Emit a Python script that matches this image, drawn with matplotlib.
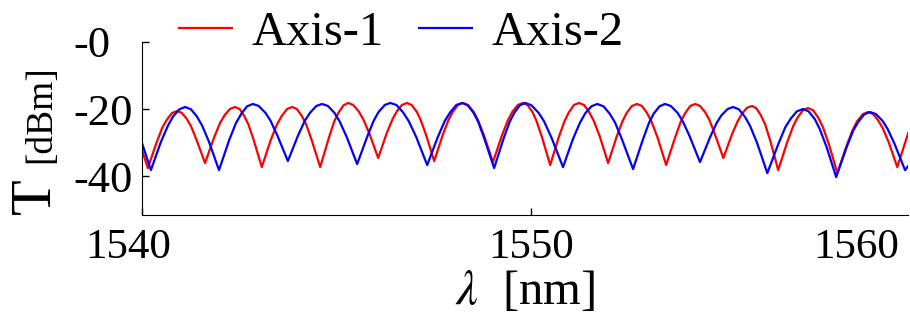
import matplotlib
matplotlib.use('Agg')
import matplotlib.pyplot as plt
from matplotlib.transforms import ScaledTranslation

# wavelength [nm] and transmission [dBm]
wl_axis1 = [1540.00, 1540.15, 1540.375, 1540.525, 1540.64, 1540.77,
            1540.90, 1541.02, 1541.15, 1541.26, 1541.40, 1541.62,
            1541.85, 1542.005, 1542.12, 1542.26, 1542.39, 1542.51,
            1542.63, 1542.735, 1542.87, 1543.08, 1543.31, 1543.47,
            1543.59, 1543.73, 1543.86, 1543.98, 1544.11, 1544.22,
            1544.36, 1544.58, 1544.80, 1544.94, 1545.05, 1545.18,
            1545.30, 1545.43, 1545.57, 1545.685, 1545.84, 1546.07,
            1546.29, 1546.44, 1546.55, 1546.68, 1546.81, 1546.93,
            1547.06, 1547.16, 1547.30, 1547.51, 1547.73, 1547.88,
            1547.99, 1548.12, 1548.25, 1548.38, 1548.52, 1548.635,
            1548.79, 1549.02, 1549.25, 1549.405, 1549.52, 1549.66,
            1549.79, 1549.91, 1550.04, 1550.14, 1550.28, 1550.49,
            1550.71, 1550.86, 1550.97, 1551.10, 1551.23, 1551.36,
            1551.49, 1551.605, 1551.76, 1551.98, 1552.20, 1552.35,
            1552.46, 1552.59, 1552.72, 1552.85, 1552.98, 1553.095,
            1553.25, 1553.47, 1553.70, 1553.845, 1553.96, 1554.09,
            1554.22, 1554.34, 1554.47, 1554.58, 1554.72, 1554.94,
            1555.16, 1555.31, 1555.42, 1555.55, 1555.68, 1555.79,
            1555.91, 1556.015, 1556.15, 1556.35, 1556.58, 1556.735,
            1556.85, 1556.99, 1557.12, 1557.25, 1557.38, 1557.495,
            1557.65, 1557.87, 1558.11, 1558.265, 1558.38, 1558.53,
            1558.66, 1558.79, 1558.92, 1559.035, 1559.19, 1559.41,
            1559.69]
t_axis1 = [-32.2, -37.6, -30.0, -25.5, -23.2, -21.2,
           -20.6, -21.1, -22.9, -25.1, -29.1, -36.1,
           -28.6, -24.2, -21.9, -20.0, -19.4, -20.0,
           -22.1, -24.6, -29.2, -37.3, -29.2, -24.6,
           -22.1, -20.0, -19.4, -20.0, -22.1, -24.6,
           -29.2, -37.3, -28.7, -23.7, -21.1, -18.9,
           -18.2, -18.8, -20.7, -23.0, -27.2, -34.6,
           -27.2, -23.0, -20.7, -18.8, -18.2, -18.8,
           -20.8, -23.2, -27.7, -35.5, -27.7, -23.2,
           -20.8, -18.8, -18.2, -18.8, -20.8, -23.3,
           -27.9, -35.8, -27.9, -23.3, -20.8, -18.8,
           -18.2, -18.8, -21.0, -23.6, -28.4, -36.7,
           -28.4, -23.6, -21.0, -18.8, -18.2, -18.8,
           -20.9, -23.4, -28.0, -36.1, -28.2, -23.6,
           -21.1, -19.1, -18.5, -19.1, -21.2, -23.8,
           -28.5, -36.7, -28.5, -23.8, -21.2, -19.1,
           -18.5, -19.1, -20.9, -23.2, -27.4, -34.6,
           -27.6, -23.6, -21.4, -19.6, -19.1, -19.8,
           -22.0, -24.6, -29.6, -38.2, -29.9, -25.1,
           -22.5, -20.3, -19.7, -20.4, -22.6, -25.3,
           -30.4, -39.1, -30.9, -26.2, -23.6, -21.5,
           -20.9, -21.5, -23.4, -25.7, -29.9, -37.3,
           -27.2]

wl_axis2 = [1540.00, 1540.23, 1540.49, 1540.67, 1540.80, 1540.96,
            1541.11, 1541.26, 1541.41, 1541.545, 1541.72, 1541.98,
            1542.24, 1542.415, 1542.55, 1542.70, 1542.85, 1543.00,
            1543.17, 1543.30, 1543.48, 1543.75, 1544.01, 1544.19,
            1544.32, 1544.48, 1544.63, 1544.78, 1544.95, 1545.08,
            1545.26, 1545.53, 1545.79, 1545.955, 1546.08, 1546.24,
            1546.38, 1546.54, 1546.71, 1546.855, 1547.05, 1547.33,
            1547.60, 1547.78, 1547.92, 1548.08, 1548.23, 1548.37,
            1548.52, 1548.64, 1548.80, 1549.05, 1549.29, 1549.45,
            1549.57, 1549.71, 1549.85, 1550.01, 1550.19, 1550.335,
            1550.53, 1550.82, 1551.08, 1551.26, 1551.39, 1551.55,
            1551.70, 1551.86, 1552.02, 1552.16, 1552.34, 1552.62,
            1552.87, 1553.03, 1553.15, 1553.30, 1553.44, 1553.59,
            1553.76, 1553.89, 1554.07, 1554.34, 1554.60, 1554.765,
            1554.89, 1555.05, 1555.19, 1555.34, 1555.50, 1555.63,
            1555.81, 1556.07, 1556.35, 1556.53, 1556.67, 1556.83,
            1556.99, 1557.13, 1557.29, 1557.415, 1557.59, 1557.84,
            1558.10, 1558.275, 1558.41, 1558.56, 1558.71, 1558.86,
            1559.03, 1559.16, 1559.34, 1559.61, 1559.69]
t_axis2 = [-30.1, -38.2, -29.7, -24.9, -22.2, -20.1,
           -19.4, -20.1, -22.2, -24.9, -29.7, -38.2,
           -29.3, -24.2, -21.5, -19.2, -18.5, -19.1,
           -21.1, -23.4, -27.9, -35.5, -27.9, -23.4,
           -21.1, -19.1, -18.5, -19.1, -21.2, -23.7,
           -28.3, -36.4, -28.2, -23.5, -20.9, -18.8,
           -18.2, -18.8, -21.0, -23.6, -28.4, -36.7,
           -28.4, -23.6, -21.0, -18.8, -18.2, -18.9,
           -21.1, -23.8, -28.9, -37.6, -28.9, -23.8,
           -21.1, -18.9, -18.2, -18.9, -21.1, -23.7,
           -28.7, -37.3, -28.8, -24.0, -21.3, -19.2,
           -18.5, -19.2, -21.4, -24.1, -29.2, -37.9,
           -29.2, -24.1, -21.4, -19.2, -18.5, -19.1,
           -21.1, -23.5, -28.0, -35.8, -28.4, -24.2,
           -21.9, -20.0, -19.4, -20.1, -22.4, -25.1,
           -30.2, -39.1, -30.5, -25.5, -22.9, -20.7,
           -20.0, -20.7, -23.0, -25.9, -31.2, -40.3,
           -31.6, -26.5, -23.8, -21.6, -20.9, -21.5,
           -23.5, -25.9, -30.4, -38.2, -37.0]

x_ticks = [1540, 1550, 1558.35]
x_ticklabels = ['1540', '1550', '1560']
y_ticks = [0, -20, -40]
y_ticklabels = ['-0', '-20', '-40']

plt.rcParams['font.family'] = 'serif'
plt.rcParams['font.serif'] = ['Liberation Serif', 'DejaVu Serif']
plt.rcParams['mathtext.fontset'] = 'stix'

fig = plt.figure(figsize=(9.1, 3.22), dpi=100)
ax = fig.add_axes([0.156, 0.332, 0.842, 0.538])

ax.plot(wl_axis1, t_axis1, color='#ff0000', lw=1.6, label='Axis-1')
ax.plot(wl_axis2, t_axis2, color='#0000ff', lw=1.6, label='Axis-2')

ax.set_xlim(1540, 1559.69)
ax.set_ylim(-51.6, 0)
ax.spines['top'].set_visible(False)
ax.spines['right'].set_visible(False)

ax.set_xticks(x_ticks)
ax.set_xticklabels(x_ticklabels)
ax.set_yticks(y_ticks)
ax.set_yticklabels(y_ticklabels)
ax.tick_params(direction='in', length=5, width=1, labelsize=31)
ax.tick_params(axis='x', pad=10)
ax.tick_params(axis='y', pad=49.5, labelsize=32)
for lab in ax.get_yticklabels():
    lab.set_horizontalalignment('left')
ax.xaxis.get_major_ticks()[2].tick1line.set_visible(False)
lab0 = ax.get_xticklabels()[0]
lab0.set_transform(lab0.get_transform() + ScaledTranslation(-0.14, 0, fig.dpi_scale_trans))

ax.set_xlabel(r'$\lambda$  [nm]', fontsize=35, labelpad=1)
fig.text(0.039, 0.39, 'T', fontsize=42, rotation=90, ha='center', va='center')
fig.text(0.045, 0.645, '[dBm]', fontsize=27, rotation=90, ha='center', va='center')

fig.legend(loc='center', bbox_to_anchor=(0.441, 0.897), ncol=2, frameon=False, fontsize=35,
           handlelength=1.09, handletextpad=0.41, columnspacing=0.72)

plt.savefig('out.png', dpi=100)
